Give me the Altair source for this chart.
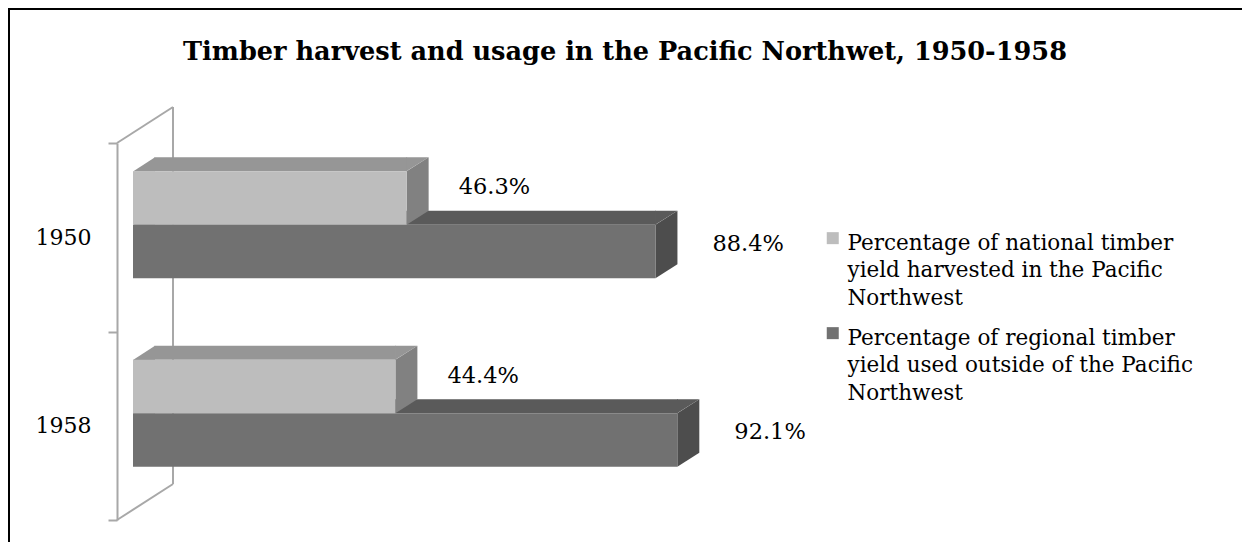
import altair as alt
import pandas as pd

# ---------------- data ----------------
years = ["1950", "1958"]
national_share = [46.3, 44.4]      # % of national timber yield harvested in the PNW
regional_outside = [88.4, 92.1]    # % of regional timber yield used outside the PNW
series_names = [
    "Percentage of national timber yield harvested in the Pacific Northwest",
    "Percentage of regional timber yield used outside of the Pacific Northwest",
]
legend_lines = [
    ["Percentage of national timber", "yield harvested in the Pacific", "Northwest"],
    ["Percentage of regional timber", "yield used outside of the Pacific", "Northwest"],
]
title_text = "Timber harvest and usage in the Pacific Northwet, 1950-1958"

rows = []
for i, yr in enumerate(years):
    rows.append({"year": yr, "series": series_names[0], "value": national_share[i]})
    rows.append({"year": yr, "series": series_names[1], "value": regional_outside[i]})
df = pd.DataFrame(rows)

# ---------------- styling / layout ----------------
W, H = 1234, 534
FONT = "DejaVu Serif"
LIGHT = {"front": "#bdbdbd", "top": "#969696", "side": "#818181"}
DARK = {"front": "#717171", "top": "#5a5a5a", "side": "#4d4d4d"}
WALL = "#a8a8a8"

X0_PX, PX_PER_100 = 125, 591
DX, DY = 22.0, 14.0          # 3-D depth of the bars, in pixels
BAR_H = 53.5
OFF_LIGHT, OFF_DARK = -39.25, 14.25

x_scale = alt.Scale(domain=[0, 100], range=[X0_PX, X0_PX + PX_PER_100])
y_scale = alt.Scale(domain=years, range=[135, 512], paddingInner=0, paddingOuter=0)

y_enc = alt.Y(
    "year:N", scale=y_scale, sort=years, title=None,
    axis=alt.Axis(
        offset=-109, domainColor=WALL, domainWidth=2, tickColor=WALL, tickWidth=2,
        tickSize=9, tickBand="extent", labelFont=FONT, labelFontSize=22,
        labelColor="black", labelPadding=17, grid=False,
    ),
)
x_val = alt.X("value:Q", scale=x_scale, axis=None)
x_zero = alt.X("zero:Q", scale=x_scale, axis=None)
x2_zero = alt.X2("zero:Q")

label_expr = (
    "datum.label == '" + series_names[0] + "' ? " + str(legend_lines[0]) + " : " + str(legend_lines[1])
)

color_enc = alt.Color(
    "series:N",
    scale=alt.Scale(domain=series_names, range=[LIGHT["front"], DARK["front"]]),
    legend=alt.Legend(
        title=None, orient="none", legendX=814, legendY=214,
        symbolType="M-1,-0.1 L1,-0.1 L1,1.9 L-1,1.9 Z",
        symbolSize=144, symbolStrokeWidth=0, labelFont=FONT, labelFontSize=21.5,
        labelColor="black", labelLimit=0, labelExpr=label_expr, labelBaseline="top",
        labelOffset=4, rowPadding=7,
    ),
)

base = alt.Chart()

# custom symbol paths (size=4 -> 1 path unit = 1 px)
LEFT_TRI = f"M0,0.3 L{DX},0.3 L{DX},{-DY} Z"
RIGHT_TRI = f"M-0.3,0 L-0.3,{-DY} L{DX},{-DY} Z"
SIDE = f"M0,0 L{DX},{-DY} L{DX},{BAR_H - DY} L0,{BAR_H} Z"


def shape_layer(path, color, xenc, yoff, flt):
    return base.mark_point(
        shape=path, size=4, filled=True, color=color, opacity=1, strokeWidth=0,
        yOffset=yoff,
    ).encode(x=xenc, y=y_enc).transform_filter(flt)


def series_layers(idx, pal, off, label_dx, label_dy):
    flt = alt.datum.series == series_names[idx]
    top_y = off - BAR_H / 2
    layers = [
        # top face: central rectangle + two end triangles
        base.mark_bar(
            color=pal["top"], height=DY, yOffset=top_y - DY / 2,
            xOffset=0.5, x2Offset=DX - 0.5,
        ).encode(x=x_val, x2=x2_zero, y=y_enc).transform_filter(flt),
        shape_layer(LEFT_TRI, pal["top"], x_zero, top_y, flt),
        shape_layer(RIGHT_TRI, pal["top"], x_val, top_y, flt),
        # side face
        shape_layer(SIDE, pal["side"], x_val, top_y, flt),
        # front face
        base.mark_bar(height=BAR_H, yOffset=off)
        .encode(x=x_val, x2=x2_zero, y=y_enc, color=color_enc)
        .transform_filter(flt),
        # value label
        base.mark_text(
            align="left", baseline="middle", dx=label_dx, dy=label_dy,
            font=FONT, fontSize=22.5, color="black",
        ).encode(x=x_val, y=y_enc, text="label:N").transform_filter(flt),
    ]
    return layers


one = pd.DataFrame({"k": [0]})


def rule(x, y, x2, y2, color=WALL, width=2):
    return alt.Chart(one).mark_rule(color=color, strokeWidth=width).encode(
        x=alt.value(x), y=alt.value(y), x2=alt.value(x2), y2=alt.value(y2)
    )


frame = [
    rule(0.5, -2, 0.5, H + 2, "black", 3),
    rule(-2, 0.5, W + 2, 0.5, "black", 3),
]
wall = [
    rule(109, 135, 165, 99),
    rule(165, 99, 165, 476),
    rule(165, 476, 109, 512),
]

layers = (
    frame + wall
    + series_layers(1, DARK, OFF_DARK, 57, OFF_DARK - 8)
    + series_layers(0, LIGHT, OFF_LIGHT, 52, OFF_LIGHT - 10.75)
)

chart = (
    alt.layer(*layers, data=df)
    .transform_calculate(label="format(datum.value, '.1f') + '%'", zero="0")
    .properties(
        width=W, height=H, padding=0, autosize=alt.AutoSizeParams(type="none"),
        title=alt.Title(
            title_text, font=FONT, fontSize=25.6, fontWeight="bold", color="black",
            anchor="middle", offset=-89, baseline="alphabetic",
        ),
        background="white",
    )
    .configure_view(stroke=None)
    .configure(style={"guide-label": {"lineHeight": 27.5}})
)

chart.save("out.html", embed_options={"renderer": "svg", "actions": False})
